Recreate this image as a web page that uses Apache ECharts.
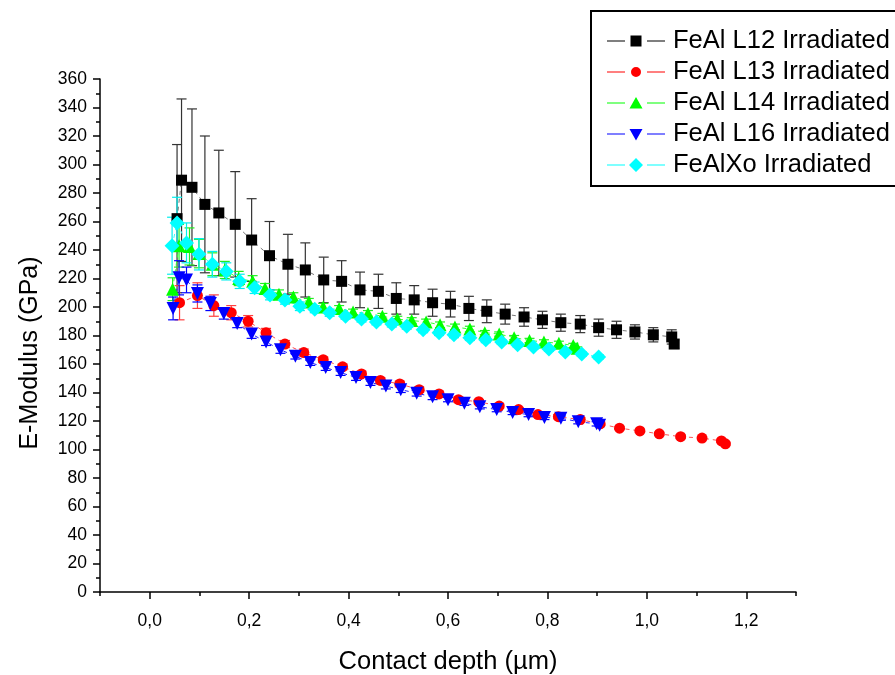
<!DOCTYPE html>
<html>
<head>
<meta charset="utf-8">
<script src="https://cdn.jsdelivr.net/npm/echarts@6/dist/echarts.min.js"></script>
<style>
  html, body { margin: 0; padding: 0; background: #fff; }
  #chart { width: 895px; height: 675px; }
</style>
</head>
<body>
<div id="chart"></div>
<script>
// Contact depth (µm), E-modulus (GPa) and its standard deviation for each sample
var depthL12 = [0.055, 0.064, 0.085, 0.111, 0.139, 0.172, 0.205, 0.241, 0.278, 0.313, 0.350, 0.386, 0.423, 0.460, 0.496, 0.532, 0.569, 0.605, 0.642, 0.678, 0.715, 0.753, 0.790, 0.827, 0.866, 0.903, 0.939, 0.976, 1.013, 1.050, 1.055];
var modL12   = [262, 289, 284, 272, 266, 258, 247, 236, 230, 226, 219, 218, 212, 211, 206, 205, 203, 202, 199, 197, 195, 193, 191, 189, 188, 185.5, 184, 182.5, 180.5, 179, 174];
var errL12   = [52, 57, 55, 48, 44, 37, 29, 24, 21, 19, 16, 14.5, 12.5, 12, 11, 10, 9.5, 9, 8.5, 8, 7, 6.5, 6, 6, 6, 6, 6, 5, 5, 5, 3];

var depthL13 = [0.060, 0.096, 0.129, 0.164, 0.198, 0.234, 0.272, 0.310, 0.349, 0.388, 0.426, 0.464, 0.503, 0.542, 0.582, 0.621, 0.662, 0.703, 0.742, 0.781, 0.822, 0.866, 0.906, 0.945, 0.986, 1.025, 1.068, 1.111, 1.150, 1.158];
var modL13   = [203, 208, 201, 196, 190, 182, 174, 168, 163, 158, 153, 148.5, 146, 142, 139, 135, 133.5, 130.5, 128, 124.5, 123, 121, 118, 115, 113, 111, 109, 108, 106, 104];
var errL13   = [12, 9, 7.5, 5, 4, 3, 2.5, 2.5, 2, 2, 2, 2, 2, 2, 2, 2, 1.5, 1.5, 1.5, 1.5, 1.5, 1.5, 1.5, 1, 1, 1, 1, 1, 1, 1];

var depthL14 = [0.046, 0.059, 0.080, 0.099, 0.126, 0.151, 0.179, 0.207, 0.232, 0.260, 0.289, 0.320, 0.349, 0.381, 0.409, 0.439, 0.468, 0.498, 0.527, 0.556, 0.584, 0.614, 0.644, 0.674, 0.703, 0.733, 0.764, 0.793, 0.823, 0.852, 0.860];
var modL14   = [212.5, 243, 242.5, 237.5, 230, 226, 220, 218, 213, 209, 207, 203.5, 200, 199, 196.5, 195.5, 193.5, 191.5, 190.5, 189.5, 187.5, 186, 184.5, 182, 181, 178.5, 176.5, 175.5, 174.5, 173, 171];
var errL14   = [8, 15, 13, 10, 8, 6, 5, 4, 3.5, 3, 3, 2.5, 2.5, 2, 2, 2, 2, 2, 2, 2, 2, 2, 2, 1.5, 1.5, 1.5, 1.5, 1.5, 1.5, 1.5, 1];

var depthL16 = [0.047, 0.059, 0.074, 0.096, 0.122, 0.149, 0.176, 0.205, 0.234, 0.263, 0.293, 0.323, 0.354, 0.384, 0.415, 0.444, 0.475, 0.505, 0.537, 0.569, 0.600, 0.633, 0.664, 0.698, 0.730, 0.762, 0.794, 0.827, 0.862, 0.899, 0.905];
var modL16   = [199, 220.5, 219, 209.5, 202.5, 195.5, 188.5, 181, 175.5, 170, 165.5, 161, 157.5, 154, 150.5, 147, 144.5, 142, 139.5, 137, 135, 132.5, 130, 128, 126, 124.5, 122.5, 122, 119.5, 118, 117];
var errL16   = [8, 12, 9, 6, 5, 4, 3, 3, 2.5, 2.5, 2, 2, 2, 2, 2, 2, 2, 2, 2, 2, 1.5, 1.5, 1.5, 1.5, 1.5, 1.5, 1.5, 1.5, 1.5, 1.5, 1];

var depthXo = [0.045, 0.055, 0.074, 0.099, 0.126, 0.154, 0.181, 0.211, 0.242, 0.272, 0.302, 0.332, 0.362, 0.394, 0.426, 0.456, 0.487, 0.517, 0.550, 0.582, 0.612, 0.644, 0.676, 0.708, 0.740, 0.772, 0.803, 0.836, 0.869, 0.903];
var modXo   = [243, 259, 245, 237, 230, 225, 218, 213.5, 208.5, 205, 200.5, 198.5, 196, 193.5, 191.5, 189.5, 188, 186.5, 184, 182, 180.5, 178.5, 177, 175.5, 173.5, 172, 170.5, 168.5, 167, 165];
var errXo   = [20, 18, 14, 11, 9, 6, 5, 4, 3.5, 3, 3, 2.5, 2.5, 2, 2, 2, 2, 2, 2, 2, 2, 2, 2, 1.5, 1.5, 1.5, 1.5, 1.5, 1.5, 1.5];

var seriesNames = ['FeAl L12 Irradiated', 'FeAl L13 Irradiated', 'FeAl L14 Irradiated', 'FeAl L16 Irradiated', 'FeAlXo Irradiated'];

// Axis ticks
var xMajorTicks = [0, 0.2, 0.4, 0.6, 0.8, 1.0, 1.2];

var FONT = '"Liberation Sans", Arial, sans-serif';

// Legend keys: short line, gap, marker, gap, short line (58 x 15 box)
var LEGEND_FRAME = 'M0,0 M58,15 ';
var LEGEND_LINES = 'M0,7H18V8H0Z M40,7H58V8H40Z ';
var legendIcons = [
  'path://' + LEGEND_FRAME + LEGEND_LINES + 'M23.5,2H34.5V13H23.5Z',
  'path://' + LEGEND_FRAME + LEGEND_LINES + 'M24,7.5A5,5 0 1 1 34,7.5A5,5 0 1 1 24,7.5Z',
  'path://' + LEGEND_FRAME + LEGEND_LINES + 'M29,1.5L35.5,13L22.5,13Z',
  'path://' + LEGEND_FRAME + LEGEND_LINES + 'M22.5,2.5L35.5,2.5L29,14Z',
  'path://' + LEGEND_FRAME + LEGEND_LINES + 'M29,0.5L36,7.5L29,14.5L22,7.5Z'
];

function rows(xs, ys, es) {
  return xs.map(function (x, i) { return [x, ys[i], es[i]]; });
}

// Vertical error bar with caps, positioned through the axis scales
function errorBarSeries(xs, ys, es, color, capHalf) {
  return {
    type: 'custom',
    silent: true,
    data: rows(xs, ys, es),
    encode: { x: 0, y: 1 },
    renderItem: function (params, api) {
      var x = api.value(0), y = api.value(1), e = api.value(2);
      var hi = api.coord([x, y + e]);
      var lo = api.coord([x, y - e]);
      var st = { stroke: color, lineWidth: 1.2 };
      return {
        type: 'group',
        children: [
          { type: 'line', shape: { x1: hi[0], y1: hi[1], x2: lo[0], y2: lo[1] }, style: st },
          { type: 'line', shape: { x1: hi[0] - capHalf, y1: hi[1], x2: hi[0] + capHalf, y2: hi[1] }, style: st },
          { type: 'line', shape: { x1: lo[0] - capHalf, y1: lo[1], x2: lo[0] + capHalf, y2: lo[1] }, style: st }
        ]
      };
    },
    z: 2
  };
}

function pointSeries(name, xs, ys, symbol, size, fill, lineColor, rotate) {
  return {
    name: name,
    type: 'line',
    data: xs.map(function (x, i) { return [x, ys[i]]; }),
    symbol: symbol,
    symbolSize: size,
    symbolRotate: rotate || 0,
    showAllSymbol: true,
    itemStyle: { color: fill, borderWidth: 0 },
    lineStyle: { color: lineColor, width: 1, type: [4, 4] },
    emphasis: { disabled: true },
    z: 3
  };
}

var chart = echarts.init(document.getElementById('chart'), null, { renderer: 'canvas' });

chart.setOption({
  animation: false,
  backgroundColor: '#ffffff',
  textStyle: { fontFamily: FONT },
  grid: { left: 100, top: 79, right: 99, bottom: 83, containLabel: false, outerBoundsMode: 'none' },
  legend: {
    orient: 'vertical',
    left: 591,
    top: 11,
    padding: [17, 40, 8, 16],
    itemGap: 5,
    itemWidth: 58,
    itemHeight: 15,
    backgroundColor: '#ffffff',
    borderColor: '#000000',
    borderWidth: 2,
    borderRadius: 0,
    textStyle: { fontFamily: FONT, fontSize: 25.5, color: '#000', padding: [0, 0, 0, 3] },
    data: seriesNames.map(function (n, i) { return { name: n, icon: legendIcons[i] }; })
  },
  graphic: [
    {
      type: 'text',
      x: 30,
      y: 353,
      rotation: Math.PI / 2,
      style: {
        text: 'E-Modulus (GPa)',
        font: '25px "Liberation Sans", Arial, sans-serif',
        fill: '#000',
        align: 'center',
        verticalAlign: 'middle'
      }
    }
  ],
  xAxis: [
    {
      type: 'value',
      min: -0.1,
      max: 1.3,
      position: 'bottom',
      name: 'Contact depth (\u00b5m)',
      nameLocation: 'middle',
      nameGap: 57,
      nameTextStyle: { fontFamily: FONT, fontSize: 25.5, color: '#000' },
      axisLine: { show: true, onZero: false, lineStyle: { color: '#000', width: 1.5 } },
      axisTick: { show: true, inside: false, length: 7, customValues: xMajorTicks, lineStyle: { color: '#000', width: 1.5 } },
      axisLabel: {
        customValues: xMajorTicks,
        margin: 20,
        fontFamily: FONT, fontSize: 17.5, color: '#000',
        formatter: function (v) { return v.toFixed(1).replace('.', ','); }
      },
      splitLine: { show: false }
    },
    {
      // minor ticks every 0.1 µm
      type: 'value',
      min: -0.1,
      max: 1.3,
      interval: 0.1,
      position: 'bottom',
      axisLine: { show: false, onZero: false },
      axisTick: { show: true, inside: false, length: 4, lineStyle: { color: '#000', width: 1.5 } },
      axisLabel: { show: false },
      splitLine: { show: false }
    }
  ],
  yAxis: {
    type: 'value',
    min: 0,
    max: 360,
    interval: 20,
    axisLine: { show: true, onZero: false, lineStyle: { color: '#000', width: 1.5 } },
    axisTick: { show: true, inside: false, length: 7, lineStyle: { color: '#000', width: 1.5 } },
    minorTick: { show: true, splitNumber: 2, length: 4, lineStyle: { color: '#000', width: 1.5 } },
    axisLabel: { margin: 13, padding: [5, 0, 0, 0], fontFamily: FONT, fontSize: 17.5, color: '#000' },
    splitLine: { show: false }
  },
  series: [
    errorBarSeries(depthL12, modL12, errL12, '#333333', 5),
    pointSeries(seriesNames[0], depthL12, modL12, 'rect', 11, '#000000', '#777777'),
    errorBarSeries(depthL13, modL13, errL13, '#ff4040', 5),
    pointSeries(seriesNames[1], depthL13, modL13, 'circle', 11, '#ff0000', '#ff5050'),
    errorBarSeries(depthL14, modL14, errL14, '#22ee22', 5),
    pointSeries(seriesNames[2], depthL14, modL14, 'triangle', 13, '#00ff00', '#33ff33'),
    errorBarSeries(depthL16, modL16, errL16, '#0000ff', 5),
    pointSeries(seriesNames[3], depthL16, modL16, 'triangle', 13, '#0000ff', '#2020ff', 180),
    errorBarSeries(depthXo, modXo, errXo, '#00eeee', 5),
    pointSeries(seriesNames[4], depthXo, modXo, 'diamond', 15, '#00ffff', '#33ffff')
  ]
});
</script>
</body>
</html>
